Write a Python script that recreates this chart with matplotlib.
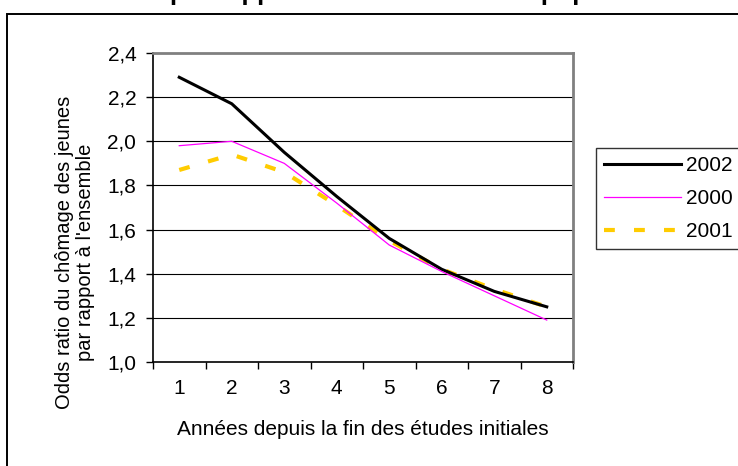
import matplotlib
matplotlib.use("Agg")
import matplotlib.pyplot as plt
from matplotlib.patches import Rectangle
from matplotlib.ticker import FixedLocator, NullFormatter, FixedFormatter

plt.rcParams["font.family"] = ["Liberation Sans", "DejaVu Sans"]

# Years since end of initial schooling
annees = [1, 2, 3, 4, 5, 6, 7, 8]
# Youth/overall unemployment odds ratio, by survey year
odds_2002 = [2.29, 2.17, 1.95, 1.75, 1.56, 1.42, 1.32, 1.25]
odds_2000 = [1.98, 2.00, 1.90, 1.72, 1.53, 1.41, 1.30, 1.19]
odds_2001 = [1.87, 1.94, 1.86, 1.71, 1.55, 1.42, 1.33, 1.25]
y_ticks = [1.0, 1.2, 1.4, 1.6, 1.8, 2.0, 2.2, 2.4]
y_tick_labels = ["1,0", "1,2", "1,4", "1,6", "1,8", "2,0", "2,2", "2,4"]

W, H = 738, 466
FS = 15
fig = plt.figure(figsize=(W / 100, H / 100), dpi=100)

# outer chart frame (top and left edges visible)
fig.patches.append(Rectangle((7 / W, -0.5), 2.0, 1.5 - 14 / H,
                             transform=fig.transFigure, fill=False,
                             edgecolor="black", linewidth=1.4))

# title, clipped at the top of the frame
fig.text(170 / W, 1.0, "par rapport à l'ensemble de la population",
         fontsize=18.5, fontweight="bold", va="baseline", ha="left")

ax = fig.add_axes([153 / W, (H - 362) / H, 420 / W, 309 / H])
ax.set_xlim(0.5, 8.5)
ax.set_ylim(1.0, 2.4)

for y in y_ticks[1:-1]:
    ax.axhline(y, color="black", linewidth=0.8, zorder=1)

l2002, = ax.plot(annees, odds_2002, color="black", linewidth=2.2, zorder=4,
                 solid_joinstyle="miter", label="2002")
l2000, = ax.plot(annees, odds_2000, color="#FF00FF", linewidth=0.9, zorder=5,
                 label="2000")
l2001, = ax.plot(annees, odds_2001, color="#FFCC00", linewidth=3.0, zorder=3,
                 dashes=(2.6, 4.6), dash_capstyle="butt", label="2001")

for side in ("top", "right"):
    ax.spines[side].set_color("#808080")
    ax.spines[side].set_linewidth(2.0)
for side in ("left", "bottom"):
    ax.spines[side].set_color("black")
    ax.spines[side].set_linewidth(1.2)

ax.yaxis.set_major_locator(FixedLocator(y_ticks))
ax.yaxis.set_major_formatter(FixedFormatter(y_tick_labels))
ax.tick_params(axis="y", direction="out", length=5, width=1, labelsize=FS, pad=7)

# category axis: ticks between categories, labels centred on categories
ax.xaxis.set_major_locator(FixedLocator([i + 0.5 for i in range(0, 9)]))
ax.xaxis.set_major_formatter(NullFormatter())
ax.xaxis.set_minor_locator(FixedLocator(annees))
ax.xaxis.set_minor_formatter(FixedFormatter([str(a) for a in annees]))
ax.tick_params(axis="x", which="major", direction="out", length=5, width=1)
ax.tick_params(axis="x", which="minor", length=0, labelsize=FS, pad=12)

ax.set_xlabel("Années depuis la fin des études initiales", fontsize=FS, labelpad=16)
fig.text(75 / W, 1 - 252 / H,
         "Odds ratio du chômage des jeunes\npar rapport à l'ensemble",
         rotation=90, fontsize=14.5, ha="center", va="center",
         multialignment="center", linespacing=1.15)

leg = fig.legend(handles=[l2002, l2000, l2001], loc="upper left",
                 bbox_to_anchor=(596 / W, 1 - 148 / H), fontsize=FS,
                 frameon=True, fancybox=False, handlelength=3.7,
                 handletextpad=0.2, labelspacing=0.66, borderpad=0.4,
                 borderaxespad=0)
leg.get_frame().set_edgecolor("black")
leg.get_frame().set_linewidth(1.0)

fig.savefig("out.png", dpi=100)
